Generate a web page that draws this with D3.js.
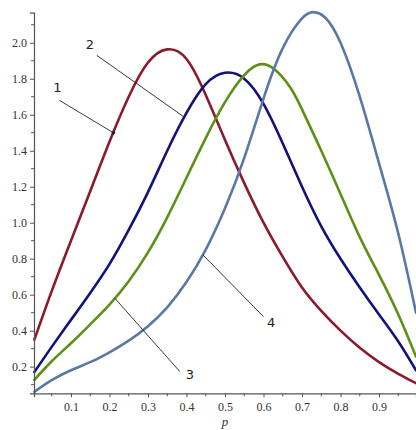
<!DOCTYPE html>
<html>
<head>
<meta charset="utf-8">
<script src="https://cdn.jsdelivr.net/npm/d3@7"></script>
<style>
  html, body { margin: 0; padding: 0; background: #fff; }
  svg { display: block; }
</style>
</head>
<body>
<svg id="chart" width="416" height="430"></svg>
<script>
// 各曲線讀圖取點 (p, 值)
const curve1 = [
  [0.005, 0.35], [0.05, 0.62], [0.10, 0.90], [0.15, 1.175], [0.20, 1.45],
  [0.25, 1.70], [0.30, 1.89], [0.35, 1.963], [0.40, 1.91], [0.45, 1.71],
  [0.50, 1.46], [0.55, 1.22], [0.60, 1.00], [0.65, 0.81], [0.70, 0.64],
  [0.75, 0.51], [0.80, 0.40], [0.85, 0.305], [0.90, 0.225], [0.95, 0.16],
  [0.996, 0.108]
];
const curve2 = [
  [0.005, 0.17], [0.05, 0.31], [0.10, 0.46], [0.15, 0.61], [0.20, 0.77],
  [0.25, 0.96], [0.30, 1.17], [0.35, 1.40], [0.40, 1.61], [0.45, 1.77],
  [0.50, 1.833], [0.55, 1.80], [0.60, 1.66], [0.65, 1.44], [0.70, 1.20],
  [0.75, 0.98], [0.80, 0.80], [0.85, 0.64], [0.90, 0.49], [0.95, 0.34],
  [0.996, 0.18]
];
const curve3 = [
  [0.005, 0.126], [0.05, 0.23], [0.10, 0.33], [0.15, 0.435], [0.20, 0.545],
  [0.25, 0.675], [0.30, 0.835], [0.35, 1.03], [0.40, 1.25], [0.45, 1.47],
  [0.50, 1.67], [0.55, 1.82], [0.59, 1.88], [0.63, 1.85], [0.67, 1.75],
  [0.70, 1.63], [0.75, 1.40], [0.80, 1.16], [0.85, 0.92], [0.90, 0.71],
  [0.95, 0.49], [0.996, 0.256]
];
const curve4 = [
  [0.005, 0.06], [0.05, 0.125], [0.10, 0.18], [0.15, 0.225], [0.20, 0.28],
  [0.25, 0.345], [0.30, 0.425], [0.35, 0.53], [0.40, 0.67], [0.45, 0.85],
  [0.50, 1.08], [0.55, 1.36], [0.60, 1.69], [0.65, 1.97], [0.70, 2.135],
  [0.73, 2.17], [0.76, 2.14], [0.80, 2.00], [0.85, 1.70], [0.90, 1.33],
  [0.95, 0.94], [0.996, 0.50]
];
const seriesColors = ['#8a1a2c', '#12127a', '#5e9017', '#5a78a6'];

// 刻度
const xMajorTicks = [0.1, 0.2, 0.3, 0.4, 0.5, 0.6, 0.7, 0.8, 0.9];
const xMinorTicks = [0.05, 0.15, 0.25, 0.35, 0.45, 0.55, 0.65, 0.75, 0.85, 0.95];
const yMajorTicks = [0.2, 0.4, 0.6, 0.8, 1.0, 1.2, 1.4, 1.6, 1.8, 2.0];
const yMinorTicks = [0.1, 0.3, 0.5, 0.7, 0.9, 1.1, 1.3, 1.5, 1.7, 1.9, 2.1];

// 標號與引線 (資料座標)
const labelNames = ['1', '2', '3', '4'];
const labelPos = [[0.065, 1.745], [0.149, 1.985], [0.409, 0.152], [0.62, 0.44]];
const leaderFrom = [[0.070, 1.68], [0.167, 1.93], [0.214, 0.58], [0.443, 0.82]];
const leaderTo = [[0.21, 1.50], [0.392, 1.59], [0.383, 0.172], [0.60, 0.478]];

const svg = d3.select('#chart');

const x = d3.scaleLinear().domain([0.004, 0.996]).range([34, 416]);
const y = d3.scaleLinear().domain([0.052, 2.167]).range([393.3, 12.7]);

const line = d3.line()
  .x(d => x(d[0]))
  .y(d => y(d[1]))
  .curve(d3.curveNatural);

// 曲線
[curve1, curve2, curve3, curve4].forEach((data, i) => {
  svg.append('path')
    .datum(data)
    .attr('d', line)
    .attr('fill', 'none')
    .attr('stroke', seriesColors[i])
    .attr('stroke-width', 2.6)
    .attr('stroke-linejoin', 'round')
    .attr('stroke-linecap', 'round');
});

// x 軸
const xAxis = svg.append('g').attr('transform', `translate(0,${y.range()[0]})`);
xAxis.call(d3.axisBottom(x).tickValues(xMajorTicks).tickSize(4).tickPadding(5)
  .tickFormat(d3.format('.1f')));
xAxis.append('g').selectAll('line')
  .data(xMinorTicks)
  .join('line')
  .attr('x1', d => x(d)).attr('x2', d => x(d))
  .attr('y1', 0).attr('y2', 3)
  .attr('stroke', '#555');

// y 軸
const yAxis = svg.append('g').attr('transform', `translate(${x.range()[0]},0)`);
yAxis.call(d3.axisLeft(y).tickValues(yMajorTicks).tickSize(4).tickPadding(3)
  .tickFormat(d3.format('.1f')));
yAxis.append('g').selectAll('line')
  .data(yMinorTicks)
  .join('line')
  .attr('x1', 0).attr('x2', -3)
  .attr('y1', d => y(d)).attr('y2', d => y(d))
  .attr('stroke', '#555');

svg.selectAll('.domain').attr('stroke', '#555').attr('stroke-width', 1.2);
svg.selectAll('.tick line').attr('stroke', '#555');
svg.selectAll('.tick text')
  .attr('font-family', '"Liberation Serif", "DejaVu Serif", serif')
  .attr('font-size', 12)
  .attr('fill', '#333');

// 軸標題 p
svg.append('text')
  .attr('x', x(0.5))
  .attr('y', 426)
  .attr('text-anchor', 'middle')
  .attr('font-family', '"Liberation Serif", serif')
  .attr('font-style', 'italic')
  .attr('font-size', 13)
  .attr('fill', '#333')
  .text('p');

// 引線與標號
labelNames.forEach((name, i) => {
  svg.append('line')
    .attr('x1', x(leaderFrom[i][0])).attr('y1', y(leaderFrom[i][1]))
    .attr('x2', x(leaderTo[i][0])).attr('y2', y(leaderTo[i][1]))
    .attr('stroke', '#222')
    .attr('stroke-width', 0.9);

  svg.append('text')
    .attr('x', x(labelPos[i][0]))
    .attr('y', y(labelPos[i][1]))
    .attr('text-anchor', 'middle')
    .attr('dominant-baseline', 'middle')
    .attr('font-family', '"DejaVu Sans", sans-serif')
    .attr('font-size', 13)
    .attr('fill', '#222')
    .text(name);
});

// 1 號引線端點
svg.append('circle')
  .attr('cx', x(leaderTo[0][0]))
  .attr('cy', y(leaderTo[0][1]))
  .attr('r', 1.8)
  .attr('fill', '#222');
</script>
</body>
</html>
